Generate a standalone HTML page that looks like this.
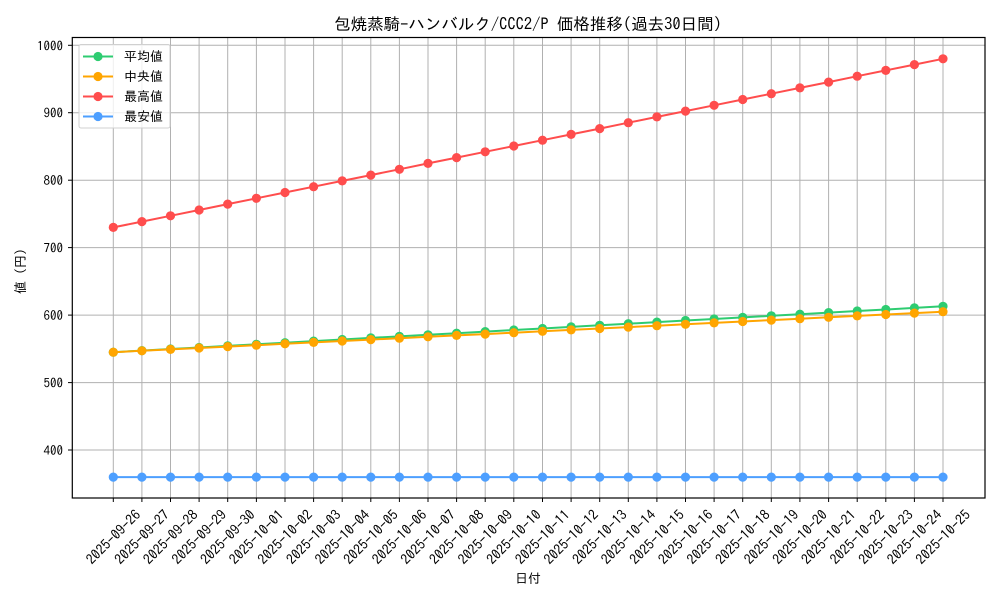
<!DOCTYPE html>
<html><head><meta charset="utf-8"><style>
html,body{margin:0;padding:0;background:#fff;}
svg{display:block;font-family:"IPAGothic","Liberation Sans","Noto Sans CJK JP",sans-serif;}
</style></head><body>
<svg width="1000" height="600" viewBox="0 0 1000 600" xmlns="http://www.w3.org/2000/svg">
<defs>
<marker id="mg" markerUnits="userSpaceOnUse" markerWidth="12" markerHeight="12" refX="6" refY="6"><circle cx="6" cy="6" r="4.6" fill="#2ecc71"/></marker>
<marker id="mo" markerUnits="userSpaceOnUse" markerWidth="12" markerHeight="12" refX="6" refY="6"><circle cx="6" cy="6" r="4.6" fill="#ffa500"/></marker>
<marker id="mr" markerUnits="userSpaceOnUse" markerWidth="12" markerHeight="12" refX="6" refY="6"><circle cx="6" cy="6" r="4.6" fill="#ff4d4d"/></marker>
<marker id="mb" markerUnits="userSpaceOnUse" markerWidth="12" markerHeight="12" refX="6" refY="6"><circle cx="6" cy="6" r="4.6" fill="#4d9fff"/></marker>
</defs>
<rect width="1000" height="600" fill="#fff"/>
<text x="528" y="30" font-size="16.5" text-anchor="middle">包焼蒸騎-ハンバルク/CCC2/P 価格推移(過去30日間)</text>
<g stroke="#b0b0b0" stroke-width="1">
<line x1="113.3" y1="37.5" x2="113.3" y2="498"/><line x1="141.9" y1="37.5" x2="141.9" y2="498"/><line x1="170.5" y1="37.5" x2="170.5" y2="498"/><line x1="199.1" y1="37.5" x2="199.1" y2="498"/><line x1="227.7" y1="37.5" x2="227.7" y2="498"/><line x1="256.4" y1="37.5" x2="256.4" y2="498"/><line x1="285" y1="37.5" x2="285" y2="498"/><line x1="313.6" y1="37.5" x2="313.6" y2="498"/><line x1="342.2" y1="37.5" x2="342.2" y2="498"/><line x1="370.8" y1="37.5" x2="370.8" y2="498"/><line x1="399.4" y1="37.5" x2="399.4" y2="498"/><line x1="428" y1="37.5" x2="428" y2="498"/><line x1="456.6" y1="37.5" x2="456.6" y2="498"/><line x1="485.2" y1="37.5" x2="485.2" y2="498"/><line x1="513.8" y1="37.5" x2="513.8" y2="498"/><line x1="542.5" y1="37.5" x2="542.5" y2="498"/><line x1="571.1" y1="37.5" x2="571.1" y2="498"/><line x1="599.7" y1="37.5" x2="599.7" y2="498"/><line x1="628.3" y1="37.5" x2="628.3" y2="498"/><line x1="656.9" y1="37.5" x2="656.9" y2="498"/><line x1="685.5" y1="37.5" x2="685.5" y2="498"/><line x1="714.1" y1="37.5" x2="714.1" y2="498"/><line x1="742.7" y1="37.5" x2="742.7" y2="498"/><line x1="771.3" y1="37.5" x2="771.3" y2="498"/><line x1="799.9" y1="37.5" x2="799.9" y2="498"/><line x1="828.6" y1="37.5" x2="828.6" y2="498"/><line x1="857.2" y1="37.5" x2="857.2" y2="498"/><line x1="885.8" y1="37.5" x2="885.8" y2="498"/><line x1="914.4" y1="37.5" x2="914.4" y2="498"/><line x1="943" y1="37.5" x2="943" y2="498"/>
<line x1="72.3" y1="450" x2="985" y2="450"/><line x1="72.3" y1="382.6" x2="985" y2="382.6"/><line x1="72.3" y1="315.1" x2="985" y2="315.1"/><line x1="72.3" y1="247.6" x2="985" y2="247.6"/><line x1="72.3" y1="180.2" x2="985" y2="180.2"/><line x1="72.3" y1="112.7" x2="985" y2="112.7"/><line x1="72.3" y1="45.3" x2="985" y2="45.3"/>
</g>
<g fill="none" stroke-width="2">
<polyline stroke="#ff4d4d" marker-start="url(#mr)" marker-mid="url(#mr)" marker-end="url(#mr)" points="113.3,227.4 141.9,221.6 170.5,215.8 199.1,210 227.7,204.1 256.4,198.3 285,192.5 313.6,186.7 342.2,180.9 370.8,175.1 399.4,169.3 428,163.4 456.6,157.6 485.2,151.8 513.8,146 542.5,140.2 571.1,134.4 599.7,128.6 628.3,122.7 656.9,116.9 685.5,111.1 714.1,105.3 742.7,99.5 771.3,93.7 799.9,87.9 828.6,82.1 857.2,76.2 885.8,70.4 914.4,64.6 943,58.8"/>
<polyline stroke="#2ecc71" marker-start="url(#mg)" marker-mid="url(#mg)" marker-end="url(#mg)" points="113.3,352.2 141.9,350.6 170.5,349 199.1,347.5 227.7,345.9 256.4,344.3 285,342.7 313.6,341.1 342.2,339.5 370.8,337.9 399.4,336.4 428,334.8 456.6,333.2 485.2,331.6 513.8,330 542.5,328.5 571.1,326.9 599.7,325.3 628.3,323.7 656.9,322.1 685.5,320.5 714.1,319 742.7,317.4 771.3,315.8 799.9,314.2 828.6,312.6 857.2,311 885.8,309.5 914.4,307.9 943,306.3"/>
<polyline stroke="#ffa500" marker-start="url(#mo)" marker-mid="url(#mo)" marker-end="url(#mo)" points="113.3,352.2 141.9,350.8 170.5,349.4 199.1,348 227.7,346.6 256.4,345.2 285,343.8 313.6,342.4 342.2,341 370.8,339.6 399.4,338.2 428,336.8 456.6,335.4 485.2,334.1 513.8,332.7 542.5,331.3 571.1,329.9 599.7,328.5 628.3,327.1 656.9,325.7 685.5,324.3 714.1,322.9 742.7,321.5 771.3,320.1 799.9,318.7 828.6,317.3 857.2,315.9 885.8,314.5 914.4,313.1 943,311.7"/>
<polyline stroke="#4d9fff" marker-start="url(#mb)" marker-mid="url(#mb)" marker-end="url(#mb)" points="113.3,477.1 141.9,477.1 170.5,477.1 199.1,477.1 227.7,477.1 256.4,477.1 285,477.1 313.6,477.1 342.2,477.1 370.8,477.1 399.4,477.1 428,477.1 456.6,477.1 485.2,477.1 513.8,477.1 542.5,477.1 571.1,477.1 599.7,477.1 628.3,477.1 656.9,477.1 685.5,477.1 714.1,477.1 742.7,477.1 771.3,477.1 799.9,477.1 828.6,477.1 857.2,477.1 885.8,477.1 914.4,477.1 943,477.1"/>
</g>
<rect x="72.3" y="37.5" width="912.7" height="460.5" fill="none" stroke="#000" stroke-width="1.2"/>
<g stroke="#000" stroke-width="1">
<line x1="68" y1="450" x2="72.3" y2="450"/><line x1="68" y1="382.6" x2="72.3" y2="382.6"/><line x1="68" y1="315.1" x2="72.3" y2="315.1"/><line x1="68" y1="247.6" x2="72.3" y2="247.6"/><line x1="68" y1="180.2" x2="72.3" y2="180.2"/><line x1="68" y1="112.7" x2="72.3" y2="112.7"/><line x1="68" y1="45.3" x2="72.3" y2="45.3"/>
</g>
<g font-size="13" text-anchor="end">
<text x="63" y="455">400</text><text x="63" y="387.6">500</text><text x="63" y="320.1">600</text><text x="63" y="252.6">700</text><text x="63" y="185.2">800</text><text x="63" y="117.7">900</text><text x="63" y="50.3">1000</text>
</g>
<g stroke="#000" stroke-width="1">
<line x1="113.3" y1="498" x2="113.3" y2="502"/><line x1="141.9" y1="498" x2="141.9" y2="502"/><line x1="170.5" y1="498" x2="170.5" y2="502"/><line x1="199.1" y1="498" x2="199.1" y2="502"/><line x1="227.7" y1="498" x2="227.7" y2="502"/><line x1="256.4" y1="498" x2="256.4" y2="502"/><line x1="285" y1="498" x2="285" y2="502"/><line x1="313.6" y1="498" x2="313.6" y2="502"/><line x1="342.2" y1="498" x2="342.2" y2="502"/><line x1="370.8" y1="498" x2="370.8" y2="502"/><line x1="399.4" y1="498" x2="399.4" y2="502"/><line x1="428" y1="498" x2="428" y2="502"/><line x1="456.6" y1="498" x2="456.6" y2="502"/><line x1="485.2" y1="498" x2="485.2" y2="502"/><line x1="513.8" y1="498" x2="513.8" y2="502"/><line x1="542.5" y1="498" x2="542.5" y2="502"/><line x1="571.1" y1="498" x2="571.1" y2="502"/><line x1="599.7" y1="498" x2="599.7" y2="502"/><line x1="628.3" y1="498" x2="628.3" y2="502"/><line x1="656.9" y1="498" x2="656.9" y2="502"/><line x1="685.5" y1="498" x2="685.5" y2="502"/><line x1="714.1" y1="498" x2="714.1" y2="502"/><line x1="742.7" y1="498" x2="742.7" y2="502"/><line x1="771.3" y1="498" x2="771.3" y2="502"/><line x1="799.9" y1="498" x2="799.9" y2="502"/><line x1="828.6" y1="498" x2="828.6" y2="502"/><line x1="857.2" y1="498" x2="857.2" y2="502"/><line x1="885.8" y1="498" x2="885.8" y2="502"/><line x1="914.4" y1="498" x2="914.4" y2="502"/><line x1="943" y1="498" x2="943" y2="502"/>
</g>
<g font-size="14" text-anchor="middle" dominant-baseline="central">
<text transform="translate(113.3,537) rotate(-45)">2025-09-26</text>
<text transform="translate(141.9,537) rotate(-45)">2025-09-27</text>
<text transform="translate(170.5,537) rotate(-45)">2025-09-28</text>
<text transform="translate(199.1,537) rotate(-45)">2025-09-29</text>
<text transform="translate(227.7,537) rotate(-45)">2025-09-30</text>
<text transform="translate(256.4,537) rotate(-45)">2025-10-01</text>
<text transform="translate(285,537) rotate(-45)">2025-10-02</text>
<text transform="translate(313.6,537) rotate(-45)">2025-10-03</text>
<text transform="translate(342.2,537) rotate(-45)">2025-10-04</text>
<text transform="translate(370.8,537) rotate(-45)">2025-10-05</text>
<text transform="translate(399.4,537) rotate(-45)">2025-10-06</text>
<text transform="translate(428,537) rotate(-45)">2025-10-07</text>
<text transform="translate(456.6,537) rotate(-45)">2025-10-08</text>
<text transform="translate(485.2,537) rotate(-45)">2025-10-09</text>
<text transform="translate(513.8,537) rotate(-45)">2025-10-10</text>
<text transform="translate(542.5,537) rotate(-45)">2025-10-11</text>
<text transform="translate(571.1,537) rotate(-45)">2025-10-12</text>
<text transform="translate(599.7,537) rotate(-45)">2025-10-13</text>
<text transform="translate(628.3,537) rotate(-45)">2025-10-14</text>
<text transform="translate(656.9,537) rotate(-45)">2025-10-15</text>
<text transform="translate(685.5,537) rotate(-45)">2025-10-16</text>
<text transform="translate(714.1,537) rotate(-45)">2025-10-17</text>
<text transform="translate(742.7,537) rotate(-45)">2025-10-18</text>
<text transform="translate(771.3,537) rotate(-45)">2025-10-19</text>
<text transform="translate(799.9,537) rotate(-45)">2025-10-20</text>
<text transform="translate(828.6,537) rotate(-45)">2025-10-21</text>
<text transform="translate(857.2,537) rotate(-45)">2025-10-22</text>
<text transform="translate(885.8,537) rotate(-45)">2025-10-23</text>
<text transform="translate(914.4,537) rotate(-45)">2025-10-24</text>
<text transform="translate(943,537) rotate(-45)">2025-10-25</text>
</g>
<text x="528" y="583" font-size="13" text-anchor="middle">日付</text>
<text transform="translate(25,268) rotate(-90)" font-size="13" text-anchor="middle">値（円）</text>
<rect x="79" y="44.5" width="91" height="83.5" rx="2" fill="#fff" fill-opacity="0.8" stroke="#d0d0d0" stroke-width="1"/>
<g stroke-width="2">
<line x1="83" y1="56.5" x2="113" y2="56.5" stroke="#2ecc71"/><circle cx="98" cy="56.5" r="4.6" fill="#2ecc71"/>
<line x1="83" y1="76.5" x2="113" y2="76.5" stroke="#ffa500"/><circle cx="98" cy="76.5" r="4.6" fill="#ffa500"/>
<line x1="83" y1="96.5" x2="113" y2="96.5" stroke="#ff4d4d"/><circle cx="98" cy="96.5" r="4.6" fill="#ff4d4d"/>
<line x1="83" y1="116.5" x2="113" y2="116.5" stroke="#4d9fff"/><circle cx="98" cy="116.5" r="4.6" fill="#4d9fff"/>
</g>
<g font-size="13">
<text x="124" y="61">平均値</text><text x="124" y="81">中央値</text><text x="124" y="101">最高値</text><text x="124" y="121">最安値</text>
</g>
</svg>
</body></html>
